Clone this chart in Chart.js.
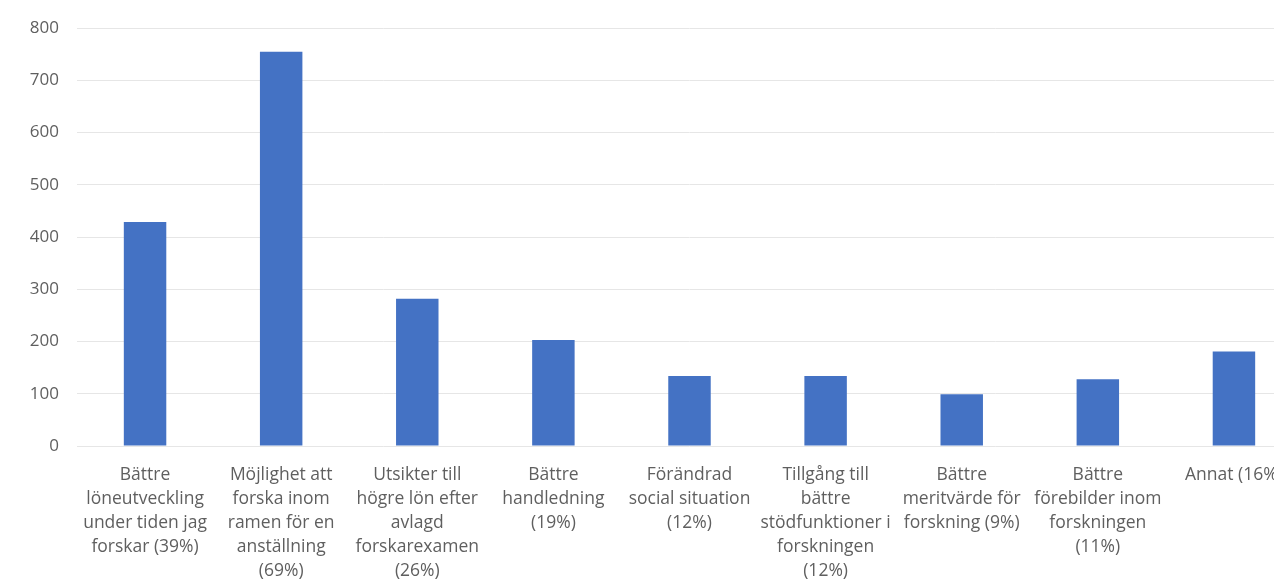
<!DOCTYPE html>
<html>
<head>
<meta charset="utf-8">
<script src="https://cdn.jsdelivr.net/npm/chart.js@4/dist/chart.umd.min.js"></script>
<style>
  html, body { margin: 0; padding: 0; background: #fff; overflow: hidden; }
  #wrap { width: 1302px; height: 581px; }
</style>
</head>
<body>
<div id="wrap"><canvas id="grafico-staplar"></canvas></div>
<script>
// kategorier (flera rader per etikett) och antal svar
const kategorier = [
    ["Bättre", "löneutveckling", "under tiden jag", "forskar (39%)"],
    ["Möjlighet att", "forska inom", "ramen för en", "anställning", "(69%)"],
    ["Utsikter till", "högre lön efter", "avlagd", "forskarexamen", "(26%)"],
    ["Bättre", "handledning", "(19%)"],
    ["Förändrad", "social situation", "(12%)"],
    ["Tillgång till", "bättre", "stödfunktioner i", "forskningen", "(12%)"],
    ["Bättre", "meritvärde för", "forskning (9%)"],
    ["Bättre", "förebilder inom", "forskningen", "(11%)"],
    ["Annat (16%)"]
];
const antalSvar = [429, 755, 282, 203, 134, 134, 99, 128, 181];
const yMin = 0;
const yMax = 800;
const ySteg = 100;

const textFarg = "#5f5f5f";
const stapelFarg = "#4472C4";

const ctx = document.getElementById("grafico-staplar");
new Chart(ctx, {
    type: "bar",
    data: {
        labels: kategorier,
        datasets: [{
            data: antalSvar,
            backgroundColor: stapelFarg,
            barPercentage: 0.312,
            categoryPercentage: 1.0
        }]
    },
    options: {
        responsive: true,
        maintainAspectRatio: false,
        animation: false,
        layout: { padding: { top: 18, right: 0, bottom: 0, left: 0 } },
        plugins: {
            legend: { display: false },
            tooltip: { enabled: false }
        },
        scales: {
            x: {
                grid: { display: false },
                border: { display: false },
                ticks: {
                    color: textFarg,
                    font: { family: "'Open Sans', sans-serif", size: 17.5, lineHeight: 1.37 },
                    maxRotation: 0,
                    minRotation: 0,
                    autoSkip: false,
                    padding: 9
                },
                afterFit: function (scale) {
                    scale.height = 135;
                }
            },
            y: {
                min: yMin,
                max: yMax,
                grid: { color: "#e6e6e6", lineWidth: 1, drawTicks: false },
                border: { display: false },
                ticks: {
                    stepSize: ySteg,
                    color: textFarg,
                    font: { family: "'Open Sans', sans-serif", size: 17 },
                    padding: 18
                },
                afterFit: function (scale) {
                    scale.width = 77;
                }
            }
        }
    }
});
</script>
</body>
</html>
